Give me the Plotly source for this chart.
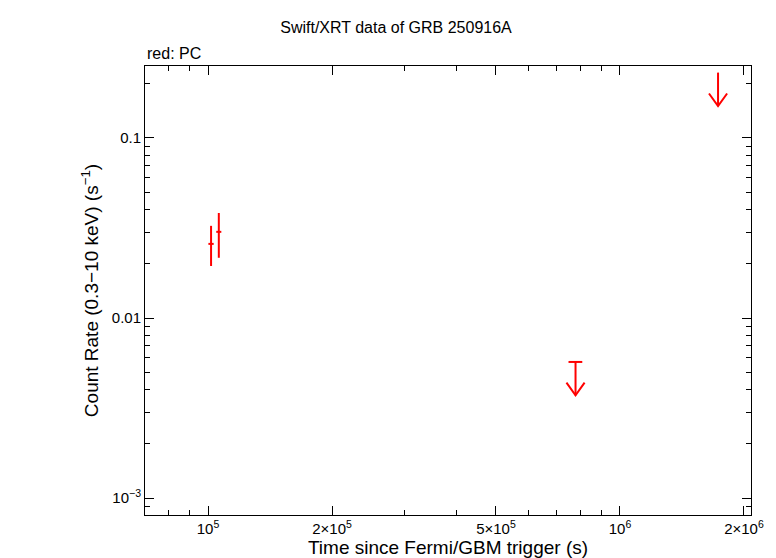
import numpy as np
import plotly.graph_objects as go

t = [1.017e5, 1.062e5]
t_err = [0.015e5, 0.015e5]
rate = [0.0258, 0.0301]
rate_hi = [0.0325, 0.0383]
rate_lo = [0.01945, 0.0216]

ul_t = [7.8e5, 1.73e6]
ul_rate = [0.0057, 0.23]
ul_terr = [0.3e5, 0.0]

xt_vals = [1e5, 2e5, 5e5, 1e6, 2e6]
xt_text = ["10<sup>5</sup>", "2×10<sup>5</sup>", "5×10<sup>5</sup>", "10<sup>6</sup>", "2×10<sup>6</sup>"]
yt_vals = [1e-3, 1e-2, 1e-1]
yt_text = ["10<sup>−3</sup>", "0.01", "0.1"]

xminor = [m * 10**e for e in (4, 5, 6) for m in range(1, 10) if 7e4 < m * 10**e < 2.1e6]
yminor = [m * 10**e for e in (-4, -3, -2, -1) for m in range(1, 10) if 8e-4 < m * 10**e < 0.25]

red = "#ff0000"
fig = go.Figure()
fig.add_trace(go.Scatter(
    x=t, y=rate, mode="markers", marker=dict(size=1, color=red),
    error_x=dict(type="data", array=t_err, color=red, thickness=2, width=0),
    error_y=dict(type="data", symmetric=False,
                 array=[h - r for h, r in zip(rate_hi, rate)],
                 arrayminus=[r - l for r, l in zip(rate, rate_lo)],
                 color=red, thickness=2, width=0),
    showlegend=False))
fig.add_trace(go.Scatter(
    x=ul_t, y=ul_rate, mode="markers", marker=dict(size=1, color=red),
    error_x=dict(type="data", array=ul_terr, color=red, thickness=2, width=0),
    showlegend=False))
# arrow shafts and open V heads
dec = 0.185
for xx, yy in zip(ul_t, ul_rate):
    lx, ly = np.log10(xx), np.log10(yy)
    fig.add_trace(go.Scatter(x=[xx, xx], y=[yy, 10**(ly - dec)], mode="lines",
                             line=dict(color=red, width=2), showlegend=False, hoverinfo="skip"))
    fig.add_trace(go.Scatter(x=[10**(lx - 0.022), xx, 10**(lx + 0.022)],
                             y=[10**(ly - dec + 0.07), 10**(ly - dec), 10**(ly - dec + 0.07)],
                             mode="lines", line=dict(color=red, width=2), showlegend=False, hoverinfo="skip"))

fig.update_layout(
    width=776, height=558, paper_bgcolor="white", plot_bgcolor="white",
    margin=dict(l=137, r=33, t=58, b=51, autoexpand=False),
    font=dict(family="Liberation Sans, Arial", size=16, color="black"),
    title=dict(text="Swift/XRT data of GRB 250916A", x=0.5, xanchor="center", y=0.965, yanchor="middle",
               font=dict(size=16)),
    annotations=[dict(text="red: PC", xref="paper", yref="paper", x=0, y=1,
                      xanchor="left", yanchor="bottom", showarrow=False, yshift=2, font=dict(size=16))],
)
axis_common = dict(type="log", showgrid=False, zeroline=False, showline=True, linecolor="black", linewidth=1,
                   mirror="allticks", ticks="inside", ticklen=9, tickcolor="black", automargin=False,
                   tickfont=dict(size=15))
fig.update_xaxes(**axis_common, range=[np.log10(7.03e4), np.log10(2.08e6)],
                 tickvals=xt_vals, ticktext=xt_text,
                 minor=dict(tickvals=xminor, ticks="inside", ticklen=5, tickcolor="black"),
                 title=dict(text="Time since Fermi/GBM trigger (s)", standoff=2))
fig.update_yaxes(**axis_common, range=[np.log10(8.05e-4), np.log10(0.251)],
                 tickvals=yt_vals, ticktext=yt_text,
                 minor=dict(tickvals=yminor, ticks="inside", ticklen=5, tickcolor="black"),
                 title=dict(text="Count Rate (0.3−10 keV) (s<sup>−1</sup>)", standoff=8))
fig.write_html("out.html")
